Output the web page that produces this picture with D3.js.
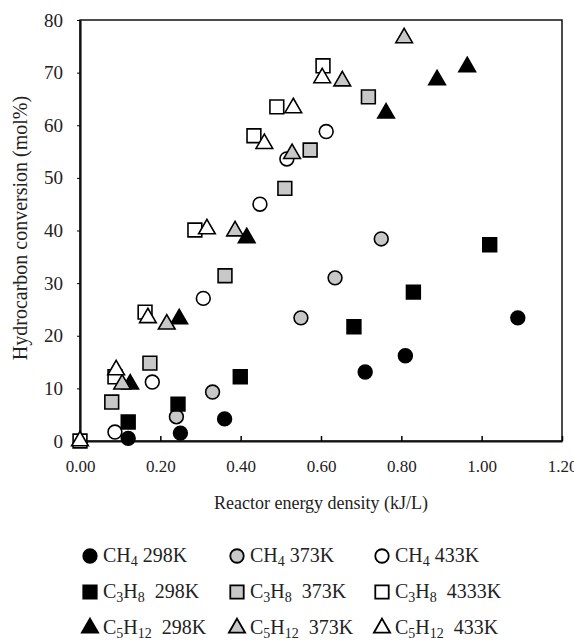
<!DOCTYPE html>
<html>
<head>
<meta charset="utf-8">
<script src="https://cdn.jsdelivr.net/npm/d3@7"></script>
<style>
  body { margin: 0; background: #fff; }
  svg, svg text { font-family: "Liberation Serif", "DejaVu Serif", serif; }
</style>
</head>
<body>
<svg id="chart" width="574" height="642"></svg>
<script>
// values: [energy density kJ/L, conversion mol%]
const ch4_298 = [[0.12, 0.5], [0.25, 1.5], [0.36, 4.2], [0.71, 13.1], [0.81, 16.2], [1.09, 23.4]];
const ch4_373 = [[0.24, 4.6], [0.33, 9.3], [0.55, 23.4], [0.635, 31.0], [0.75, 38.4]];
const ch4_433 = [[0.087, 1.7], [0.18, 11.2], [0.307, 27.1], [0.448, 45.0], [0.515, 53.6], [0.613, 58.8]];
const c3h8_298 = [[0.12, 3.6], [0.244, 7.0], [0.399, 12.2], [0.682, 21.7], [0.83, 28.3], [1.02, 37.3]];
const c3h8_373 = [[0.079, 7.4], [0.174, 14.8], [0.361, 31.4], [0.51, 48.0], [0.573, 55.3], [0.718, 65.4]];
const c3h8_433 = [[0, 0], [0.087, 12.2], [0.162, 24.5], [0.286, 40.1], [0.433, 58.0], [0.49, 63.5], [0.605, 71.3]];
const c5h12_298 = [[0.125, 10.8], [0.247, 23.2], [0.415, 38.6], [0.762, 62.3], [0.889, 68.6], [0.964, 71.1]];
const c5h12_373 = [[0.105, 10.8], [0.216, 22.2], [0.386, 39.9], [0.528, 54.6], [0.653, 68.4], [0.807, 76.6]];
const c5h12_433 = [[0, 0], [0.09, 13.5], [0.169, 23.4], [0.316, 40.3], [0.459, 56.5], [0.531, 63.3], [0.603, 69.0]];

const xTicks = [0, 0.2, 0.4, 0.6, 0.8, 1.0, 1.2];
const yTicks = [0, 10, 20, 30, 40, 50, 60, 70, 80];

// legend labels: formula parts are [text, isSubscript]
const series = [
  {data: ch4_298,   shape: "circle",   fill: "#000", name: [["CH", 0], ["4", 1]], temp: " 298K"},
  {data: ch4_373,   shape: "circle",   fill: "#c8c8c8", name: [["CH", 0], ["4", 1]], temp: " 373K"},
  {data: ch4_433,   shape: "circle",   fill: "#fff", name: [["CH", 0], ["4", 1]], temp: " 433K"},
  {data: c3h8_298,  shape: "square",   fill: "#000", name: [["C", 0], ["3", 1], ["H", 0], ["8", 1]], temp: "  298K"},
  {data: c3h8_373,  shape: "square",   fill: "#c8c8c8", name: [["C", 0], ["3", 1], ["H", 0], ["8", 1]], temp: "  373K"},
  {data: c3h8_433,  shape: "square",   fill: "#fff", name: [["C", 0], ["3", 1], ["H", 0], ["8", 1]], temp: "  4333K"},
  {data: c5h12_298, shape: "triangle", fill: "#000", name: [["C", 0], ["5", 1], ["H", 0], ["12", 1]], temp: "  298K"},
  {data: c5h12_373, shape: "triangle", fill: "#c8c8c8", name: [["C", 0], ["5", 1], ["H", 0], ["12", 1]], temp: "  373K"},
  {data: c5h12_433, shape: "triangle", fill: "#fff", name: [["C", 0], ["5", 1], ["H", 0], ["12", 1]], temp: "  433K"}
];

const margin = {top: 20, right: 12, bottom: 201, left: 80};
const width = 574 - margin.left - margin.right;
const height = 642 - margin.top - margin.bottom;

const svg = d3.select("#chart");
const g = svg.append("g").attr("transform", `translate(${margin.left},${margin.top})`);

const x = d3.scaleLinear().domain([0, 1.2]).range([0, width]);
const y = d3.scaleLinear().domain([0, 80]).range([height, 0]);

const symbolType = {circle: d3.symbolCircle, square: d3.symbolSquare, triangle: d3.symbolTriangle};
const symbolSize = {circle: 150, square: 190, triangle: 120};
const sym = (s, k = 1) => d3.symbol().type(symbolType[s]).size(symbolSize[s] * k);

// frame
g.append("rect").attr("width", width).attr("height", height)
  .attr("fill", "none").attr("stroke", "#111").attr("stroke-width", 1.5);

// x axis, ticks pointing inward
const xAxis = g.append("g").attr("transform", `translate(0,${height})`)
  .call(d3.axisBottom(x).tickValues(xTicks).tickSizeInner(-5).tickSizeOuter(0).tickPadding(19)
    .tickFormat(d3.format(".2f")));
xAxis.select(".domain").attr("stroke-width", 2.2).attr("stroke", "#111");
xAxis.selectAll(".tick line").attr("stroke-width", 1.5);
xAxis.selectAll("text")
  .style("font-family", '"Liberation Serif", serif').style("font-size", "17px").attr("fill", "#222");

const yAxis = g.append("g")
  .call(d3.axisLeft(y).tickValues(yTicks).tickSizeInner(3).tickSizeOuter(0).tickPadding(14));
yAxis.select(".domain").attr("stroke-width", 2.2).attr("stroke", "#111");
yAxis.selectAll("text")
  .style("font-family", '"Liberation Serif", serif').style("font-size", "19px").attr("fill", "#222");

// axis titles
svg.append("text").attr("x", margin.left + width / 2).attr("y", 509)
  .attr("text-anchor", "middle").style("font-size", "18px").attr("fill", "#222")
  .text("Reactor energy density (kJ/L)");
svg.append("text").attr("transform", `translate(27,${228}) rotate(-90)`)
  .attr("text-anchor", "middle").style("font-size", "20px").attr("fill", "#222")
  .text("Hydrocarbon conversion (mol%)");

// points
series.forEach(s => {
  g.append("g").selectAll("path")
    .data(s.data)
    .join("path")
    .attr("d", sym(s.shape))
    .attr("transform", d => `translate(${x(d[0])},${y(d[1])})`)
    .attr("fill", s.fill)
    .attr("stroke", "#000")
    .attr("stroke-width", 1.6);
});

// legend, 3 x 3
const colX = [90, 237, 382];
const rowY = [556, 592, 628];
series.forEach((s, i) => {
  const cx = colX[i % 3], cy = rowY[Math.floor(i / 3)];
  const item = svg.append("g").attr("transform", `translate(${cx},${cy})`);
  item.append("path")
    .attr("d", sym(s.shape, 0.95))
    .attr("fill", s.fill)
    .attr("stroke", "#000")
    .attr("stroke-width", 1.8);
  const t = item.append("text").attr("x", 13).attr("y", 6)
    .style("font-size", "20px").attr("fill", "#222").attr("xml:space", "preserve");
  s.name.forEach(([txt, sub]) => {
    t.append("tspan").style("font-size", sub ? "14px" : "20px")
      .attr("baseline-shift", sub ? "-25%" : "0%")
      .text(txt);
  });
  t.append("tspan").text(s.temp);
});
</script>
</body>
</html>
